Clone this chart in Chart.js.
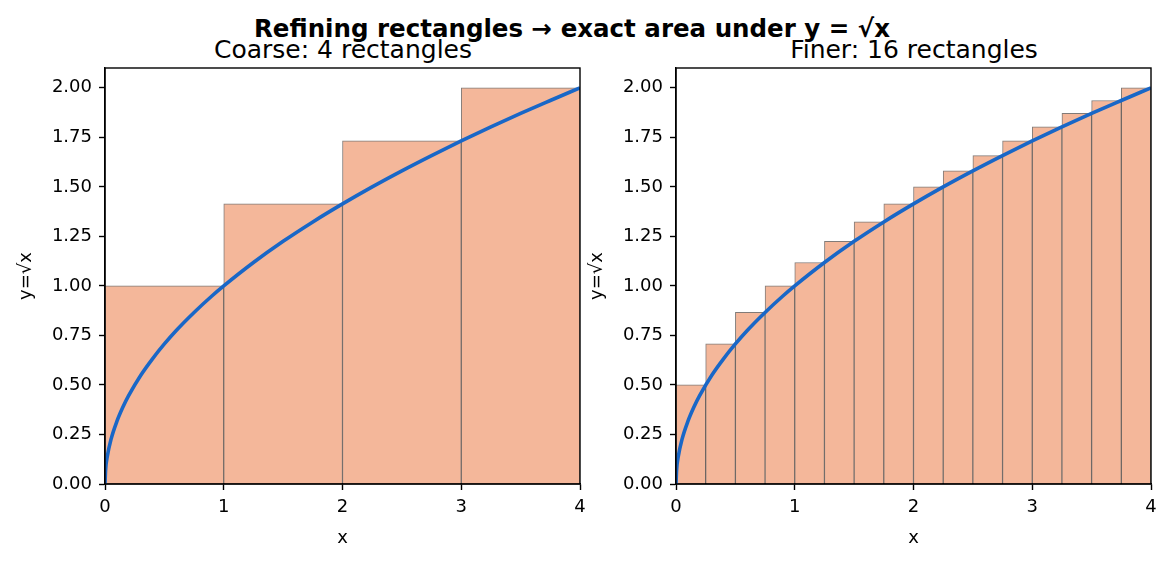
<!DOCTYPE html>
<html>
<head>
<meta charset="utf-8">
<script src="https://cdn.jsdelivr.net/npm/chart.js@4/dist/chart.umd.min.js"></script>
<style>
  body { margin: 0; background: #fff; }
  #fig { position: relative; width: 1173px; height: 562px; font-family: "DejaVu Sans", sans-serif; }
  .cv { position: absolute; top: 0; height: 562px; }
  .txt { position: absolute; white-space: nowrap; transform: translate(-50%, -50%); color: #000; }
</style>
</head>
<body>
<div id="fig">
  <div class="txt" style="left:572px; top:28px; font-size:24.5px; font-weight:bold;">Refining rectangles → exact area under y = √x</div>
  <div class="txt" style="left:343px; top:49px; font-size:25px;">Coarse: 4 rectangles</div>
  <div class="txt" style="left:914px; top:49px; font-size:25px;">Finer: 16 rectangles</div>
  <div class="cv" style="left:0; width:602px;"><canvas id="left"></canvas></div>
  <div class="cv" style="left:571px; width:602px;"><canvas id="right"></canvas></div>
</div>
<script>
// rectangle heights (right endpoint of each strip)
var coarseLabels = ['0-1', '1-2', '2-3', '3-4'];
var coarseHeights = [1.0, 1.414, 1.732, 2.0];
var fineLabels = ['0-0.25', '0.25-0.5', '0.5-0.75', '0.75-1', '1-1.25', '1.25-1.5', '1.5-1.75', '1.75-2',
                  '2-2.25', '2.25-2.5', '2.5-2.75', '2.75-3', '3-3.25', '3.25-3.5', '3.5-3.75', '3.75-4'];
var fineHeights = [0.5, 0.707, 0.866, 1.0, 1.118, 1.225, 1.323, 1.414,
                   1.5, 1.581, 1.658, 1.732, 1.803, 1.871, 1.936, 2.0];

// the curve y = sqrt(x)
var curveX = [0, 0.005, 0.02, 0.05, 0.1, 0.15, 0.2, 0.3, 0.4, 0.5, 0.6, 0.75, 0.9, 1.0,
              1.25, 1.5, 1.75, 2.0, 2.25, 2.5, 2.75, 3.0, 3.25, 3.5, 3.75, 4.0];
var curveY = [0, 0.071, 0.141, 0.224, 0.316, 0.387, 0.447, 0.548, 0.632, 0.707, 0.775, 0.866, 0.949, 1.0,
              1.118, 1.225, 1.323, 1.414, 1.5, 1.581, 1.658, 1.732, 1.803, 1.871, 1.936, 2.0];

var xTicks = [0, 1, 2, 3, 4];
var yTicks = [0, 0.25, 0.5, 0.75, 1.0, 1.25, 1.5, 1.75, 2.0];

var tickFont = { family: 'DejaVu Sans', size: 18 };

// draws the top and right spines
var frame = {
    id: 'frame',
    afterDraw: function(chart) {
        var a = chart.chartArea, ctx = chart.ctx;
        ctx.save();
        ctx.strokeStyle = '#000';
        ctx.lineWidth = 1.4;
        ctx.strokeRect(a.left, a.top, a.right - a.left, a.bottom - a.top);
        ctx.restore();
    }
};

function makeChart(id, labels, heights, padRight) {
    var pts = curveX.map(function(x, i) { return { x: x, y: curveY[i] }; });
    return new Chart(document.getElementById(id), {
        data: {
            labels: labels,
            datasets: [{
                type: 'line',
                data: pts,
                xAxisID: 'x',
                borderColor: '#1967c7',
                borderWidth: 3.6,
                pointRadius: 0,
                cubicInterpolationMode: 'monotone',
                order: 0
            }, {
                type: 'bar',
                data: heights,
                xAxisID: 'xb',
                backgroundColor: '#f4b79a',
                borderColor: 'rgba(45,35,30,0.6)',
                borderWidth: 1,
                barPercentage: 1,
                categoryPercentage: 1,
                grouped: false,
                order: 1
            }]
        },
        options: {
            responsive: true,
            maintainAspectRatio: false,
            animation: false,
            layout: { padding: { top: 68, right: padRight, left: 0, bottom: 0 } },
            plugins: { legend: { display: false }, tooltip: { enabled: false } },
            scales: {
                xb: { type: 'category', display: false, offset: true },
                x: {
                    type: 'linear', position: 'bottom', min: 0, max: 4,
                    afterBuildTicks: function(s) { s.ticks = xTicks.map(function(v) { return { value: v }; }); },
                    afterFit: function(s) { s.height = 78; },
                    grid: { drawOnChartArea: false, tickLength: 6, tickWidth: 1.4, tickColor: '#000' },
                    border: { color: '#000', width: 1.4 },
                    ticks: { font: tickFont, color: '#000', padding: 7, maxRotation: 0 },
                    title: { display: true, text: 'x', font: tickFont, color: '#000', padding: { top: 4, bottom: 13 } }
                },
                y: {
                    type: 'linear', min: 0, max: 2.1,
                    afterBuildTicks: function(s) { s.ticks = yTicks.map(function(v) { return { value: v }; }); },
                    afterFit: function(s) { s.width = 105; },
                    grid: { drawOnChartArea: false, tickLength: 6, tickWidth: 1.4, tickColor: '#000' },
                    border: { color: '#000', width: 1.4 },
                    ticks: { font: tickFont, color: '#000', padding: 7, callback: function(v) { return v.toFixed(2); } },
                    title: { display: true, text: 'y=√x', font: tickFont, color: '#000', padding: { top: 16, bottom: 0 } }
                }
            }
        },
        plugins: [frame]
    });
}

makeChart('left', coarseLabels, coarseHeights, 22);
makeChart('right', fineLabels, fineHeights, 22);
</script>
</body>
</html>
